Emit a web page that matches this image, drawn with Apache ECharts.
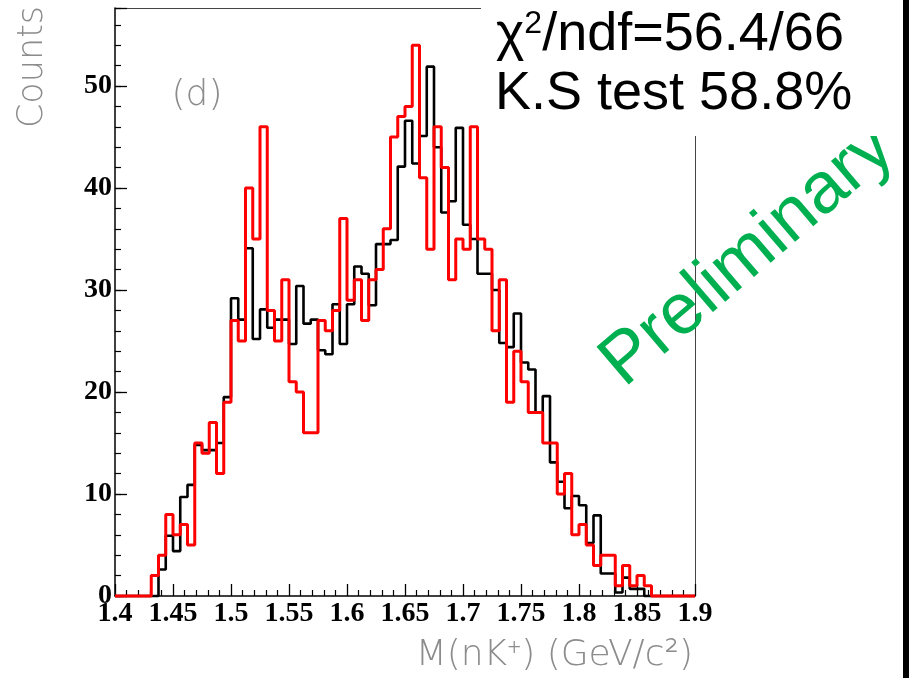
<!DOCTYPE html>
<html><head><meta charset="utf-8">
<script src="https://cdn.jsdelivr.net/npm/echarts@6/dist/echarts.min.js"></script>
<style>html,body{margin:0;padding:0;background:#fff}#c{width:909px;height:678px}</style>
</head><body><div id="c"></div>
<script>
// histogram binning: 80 bins of 0.00625 GeV/c^2 from 1.4 to 1.9
const binStart = 1.4;
const binWidth = 0.00625;
// red: data counts per bin
const dataCounts = [
  0,0,0,0,0, 2,4,8,6,7, 5,15,14,17,12, 19,27,25,40,35,
  46,28,25,31,21, 20,16,16,27,26, 28,37,29,31,27, 31,32,36,45,47,
  48,54,41,34,46, 42,31,35,34,46, 35,34,26,31,19, 24,21,18,18,15,
  15,10,12,6,7, 5,3,4,4,1, 3,1,2,1,0, 0,0,0,0,0
];
// black: normalised MC per bin
const mcCounts = [
  0,0,0,0,0, 0,2.6,5.9,4.4,9.7, 10.9,14.8,14.3,14.3,15.0, 19.5,29.2,27.1,34.1,25.2,
  28.1,26.3,27.1,27.1,24.7, 30.4,26.7,27.1,24.1,23.7, 28.6,24.7,28.6,32.3,31.6, 28.5,34.5,34.5,34.9,42.1,
  46.6,42.4,45.1,51.9,44.0, 37.6,38.7,45.9,36.4,35.0, 31.6,31.6,30.0,24.8,24.4, 27.7,22.9,22.2,18.0,19.6,
  13.1,11.2,8.6,9.8,8.9, 5.2,7.9,2.2,2.2,0.35, 1.8,0.7,0.7,0,0, 0,0,0,0,0
];
const xTickLabels = ['1.4','1.45','1.5','1.55','1.6','1.65','1.7','1.75','1.8','1.85','1.9'];
const yTickLabels = ['0','10','20','30','40','50'];
const xMin = 1.4, xMax = 1.9, xStep = 0.05;
const yMin = 0, yMax = 57.65, yStep = 10, yMinorStep = 2;

function stepData(vals) {
  const pts = vals.map((v, k) => [binStart + k * binWidth, v]);
  pts.push([binStart + vals.length * binWidth, vals[vals.length - 1]]);
  return pts;
}

const labelFont = {fontFamily: 'Liberation Serif', fontWeight: 'bold', fontSize: 28, color: '#000'};
const thinFam = '"DejaVu Sans", Roboto, sans-serif';
const thinColor = '#8c8c8c';

const chart = echarts.init(document.getElementById('c'), null, {renderer: 'canvas'});
chart.setOption({
  animation: false,
  backgroundColor: '#fff',
  grid: {left: 115, right: 214, top: 8, bottom: 82, containLabel: false},
  xAxis: [
    {
      type: 'value', position: 'bottom', min: xMin, max: xMax, interval: xStep,
      axisLine: {show: true, onZero: false, lineStyle: {color: '#000', width: 1.5}},
      axisTick: {show: true, inside: true, length: 12, lineStyle: {color: '#000', width: 1.3}},
      minorTick: {show: true, splitNumber: 5, length: 6, lineStyle: {color: '#000', width: 1.2}},
      splitLine: {show: false},
      axisLabel: Object.assign({
        margin: 4, showMinLabel: true, showMaxLabel: true,
        formatter: v => xTickLabels[Math.round((v - xMin) / xStep)] || ''
      }, labelFont)
    },
    {
      type: 'value', position: 'top', min: xMin, max: xMax,
      axisLine: {show: true, onZero: false, lineStyle: {color: '#444', width: 1}},
      axisTick: {show: false}, axisLabel: {show: false}, splitLine: {show: false}
    }
  ],
  yAxis: [
    {
      type: 'value', position: 'left', min: yMin, max: yMax, interval: yStep,
      axisLine: {show: true, onZero: false, lineStyle: {color: '#000', width: 1.5}},
      axisTick: {show: true, inside: true, length: 12, lineStyle: {color: '#000', width: 1.3}},
      splitLine: {show: false},
      axisLabel: Object.assign({
        margin: 3, showMinLabel: true, showMaxLabel: true,
        formatter: v => {
          const i = Math.round(v / yStep);
          return Math.abs(v - i * yStep) < 1e-6 ? (yTickLabels[i] || '') : '';
        }
      }, labelFont)
    },
    {
      type: 'value', position: 'left', min: yMin, max: yMax, interval: yMinorStep,
      axisLine: {show: false},
      axisTick: {show: true, inside: true, length: 6, lineStyle: {color: '#000', width: 1.2}},
      axisLabel: {show: false}, splitLine: {show: false}
    },
    {
      type: 'value', position: 'right', min: yMin, max: yMax,
      axisLine: {show: true, onZero: false, lineStyle: {color: '#444', width: 1}},
      axisTick: {show: false}, axisLabel: {show: false}, splitLine: {show: false}
    }
  ],
  series: [
    {
      name: 'MC', type: 'line', step: 'end', data: stepData(mcCounts),
      xAxisIndex: 0, yAxisIndex: 0, showSymbol: false, clip: false,
      lineStyle: {color: '#000', width: 2.6}, z: 3
    },
    {
      name: 'Data', type: 'line', step: 'end', data: stepData(dataCounts),
      xAxisIndex: 0, yAxisIndex: 0, showSymbol: false, clip: false,
      lineStyle: {color: '#ff0000', width: 3}, z: 4
    }
  ],
  graphic: [
    {type: 'rect', x: 481, y: 0, shape: {width: 422, height: 136}, style: {fill: '#fff'}, z: 50},
    {type: 'rect', x: 903, y: 0, shape: {width: 6, height: 678}, style: {fill: '#000'}, z: 50},
    {type: 'text', x: 496, y: 35, z: 60, style: {
      text: '{a|χ}{s|2}{a|/ndf=56.4/66}', align: 'left', verticalAlign: 'middle',
      rich: {
        a: {fontFamily: '"Liberation Sans", Arial, sans-serif', fontSize: 54, fill: '#000', color: '#000'},
        s: {fontFamily: '"Liberation Sans", Arial, sans-serif', fontSize: 32, fill: '#000', color: '#000', verticalAlign: 'top', padding: [0, 0, 18, 0]}
      }
    }},
    {type: 'text', x: 495, y: 94, z: 60, style: {text: 'K.S test 58.8%', font: '54px "Liberation Sans", Arial, sans-serif', fill: '#000', align: 'left', verticalAlign: 'middle'}},
    {type: 'text', x: 748, y: 256, rotation: 40.6 * Math.PI / 180, z: 40, style: {text: 'Preliminary', font: '72px "Liberation Sans", Arial, sans-serif', fill: '#00b050', align: 'center', verticalAlign: 'middle'}},
    {type: 'text', x: 33, y: 67, rotation: Math.PI / 2, z: 60, style: {text: 'Counts', font: '200 35px ' + thinFam, fill: thinColor, align: 'center', verticalAlign: 'middle'}},
    {type: 'text', x: 197, y: 96, z: 60, style: {text: '(d)', font: '200 36px ' + thinFam, fill: thinColor, align: 'center', verticalAlign: 'middle'}},
    {type: 'text', x: 693, y: 656, z: 60, style: {text: 'M(nK⁺) (GeV/c²)', font: '200 36px ' + thinFam, fill: thinColor, align: 'right', verticalAlign: 'middle'}}
  ]
});
</script>
</body></html>
